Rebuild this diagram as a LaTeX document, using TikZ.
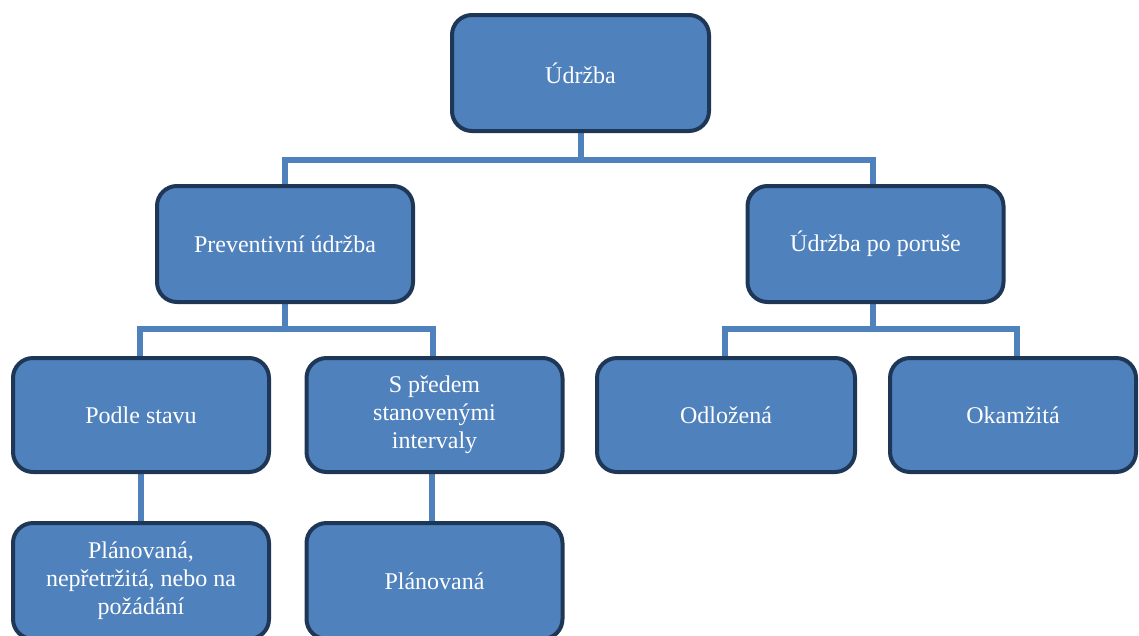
\documentclass[tikz,border=0pt]{standalone}
\usepackage{fontspec}
\setmainfont{Liberation Serif}
\usetikzlibrary{backgrounds}
\definecolor{boxfill}{HTML}{4F81BD}
\definecolor{boxborder}{HTML}{1F3756}
\definecolor{linkcol}{HTML}{4F81BD}
\tikzset{
  box/.style={draw=boxborder, line width=4pt, fill=boxfill, rounded corners=20pt,
    minimum width=256pt, minimum height=114pt, text=white, align=center,
    inner sep=0pt, font=\fontsize{24}{28}\selectfont},
  link/.style={draw=linkcol, line width=6pt}
}
\begin{document}
\begin{tikzpicture}[x=1pt,y=-1pt]
\useasboundingbox (0,0) rectangle (1139,635);
\node[box, minimum width=257pt, minimum height=116pt] (top) at (580.5,73) {Údržba};
\node[box, minimum height=116pt] (prev) at (285,244) {Preventivní údržba};
\node[box, minimum height=116pt] (udp) at (875.5,244) {Údržba po poruše};
\node[box] (podle) at (141,415) {Podle stavu};
\node[box] (spred) at (434.5,415) {S předem\\stanovenými\\intervaly};
\node[box, minimum width=258pt] (odl) at (726,415) {Odložená};
\node[box, minimum width=246pt] (okam) at (1013,415) {Okamžitá};
\node[box, minimum height=116pt] (plan1) at (141,581) {Plánovaná,\\nepřetržitá, nebo na\\požádání};
\node[box, minimum height=116pt] (plan2) at (434.5,581) {Plánovaná};
\begin{scope}[on background layer]
\draw[link] (top.south) -- (top.south |- 0,160) -| (prev.north);
\draw[link] (top.south |- 0,160) -| ([xshift=-2.5pt]udp.north);
\draw[link] (prev.south) -- (prev.south |- 0,329) -| ([xshift=-1pt]podle.north);
\draw[link] (prev.south |- 0,329) -| ([xshift=-1.5pt]spred.north);
\draw[link] ([xshift=-2.5pt]udp.south) -- ([xshift=-2.5pt]udp.south |- 0,329) -| ([xshift=-1pt]odl.north);
\draw[link] ([xshift=-2.5pt]udp.south |- 0,329) -| ([xshift=4pt]okam.north);
\draw[link] (podle.south) -- (plan1.north);
\draw[link] ([xshift=-2.5pt]spred.south) -- ([xshift=-2.5pt]plan2.north);
\end{scope}
\end{tikzpicture}
\end{document}
